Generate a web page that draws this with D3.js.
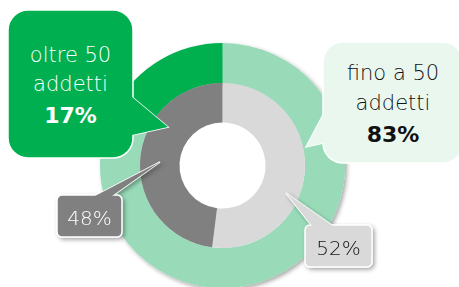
<!DOCTYPE html>
<html>
<head>
<meta charset="utf-8">
<script src="https://cdn.jsdelivr.net/npm/d3@7"></script>
<style>
  body { margin: 0; background: #fff; }
  svg { display: block; }
  text { font-family: "DejaVu Sans", sans-serif; }
</style>
</head>
<body>
<script>
(function(){

    //chart data
    var outerLabels = ["fino a 50 addetti", "oltre 50 addetti"];
    var outerValues = [83, 17];
    var outerColors = ["#99dbb9", "#00b050"];
    var innerLabels = ["52%", "48%"];
    var innerValues = [52, 48];
    var innerColors = ["#d9d9d9", "#808080"];

    var width = 459,
        height = 287,
        cx = 222.5,
        cy = 165.5;

    var svg = d3.select("body")
        .append("svg")
        .attr("width", width)
        .attr("height", height);

    //drop shadow filter
    var defs = svg.append("defs");
    var shadow = defs.append("filter")
        .attr("id", "shadow")
        .attr("x", "-30%").attr("y", "-30%")
        .attr("width", "160%").attr("height", "160%");
    shadow.append("feDropShadow")
        .attr("dx", 2).attr("dy", 2)
        .attr("stdDeviation", 2)
        .attr("flood-color", "#000")
        .attr("flood-opacity", 0.35);

    var pie = d3.pie().sort(null);

    var outerArc = d3.arc().innerRadius(82.5).outerRadius(122.5);
    var innerArc = d3.arc().innerRadius(43).outerRadius(82.5);

    var g = svg.append("g")
        .attr("transform", "translate(" + cx + "," + cy + ")");

    //outer ring with shadow
    g.append("g")
        .attr("filter", "url(#shadow)")
        .selectAll("path")
        .data(pie(outerValues))
        .enter()
        .append("path")
        .attr("d", outerArc)
        .style("fill", function(d, i){ return outerColors[i]; });

    //inner ring
    g.append("g")
        .selectAll("path")
        .data(pie(innerValues))
        .enter()
        .append("path")
        .attr("d", innerArc)
        .style("fill", function(d, i){ return innerColors[i]; });

    //callout: rounded box + pointer triangle
    function callout(opt){
        var c = svg.append("g");
        if (opt.shadow) c.attr("filter", "url(#shadow)");
        var tri = opt.pointer.map(function(p){ return p.join(","); }).join(" ");
        c.append("polygon")
            .attr("points", tri)
            .style("fill", opt.fill)
            .style("stroke", "#fff")
            .style("stroke-width", 1.5)
            .style("stroke-linejoin", "miter");
        c.append("rect")
            .attr("x", opt.x).attr("y", opt.y)
            .attr("width", opt.w).attr("height", opt.h)
            .attr("rx", opt.r).attr("ry", opt.r)
            .style("fill", opt.fill)
            .style("stroke", "#fff")
            .style("stroke-width", 1.5);
        c.append("polygon")
            .attr("points", tri)
            .style("fill", opt.fill);
        var t = c.append("text")
            .attr("text-anchor", "middle")
            .style("fill", opt.color);
        opt.lines.forEach(function(l){
            t.append("tspan")
                .attr("x", opt.x + opt.w / 2)
                .attr("y", l.y)
                .style("font-size", l.size + "px")
                .style("font-weight", l.weight)
                .text(l.text);
        });
        return c;
    }

    var fino = outerLabels[0].split(" "),
        oltre = outerLabels[1].split(" ");

    //oltre 50 addetti
    callout({
        x: 8, y: 10, w: 125, h: 148, r: 20,
        fill: outerColors[1], color: "#fff",
        pointer: [[132, 97], [168, 127], [132, 135]],
        lines: [
            {text: oltre[0] + " " + oltre[1], y: 62, size: 21, weight: 200},
            {text: oltre[2], y: 91, size: 21, weight: 200},
            {text: outerValues[1] + "%", y: 123, size: 22, weight: "bold"}
        ]
    });

    //fino a 50 addetti
    callout({
        x: 323, y: 42, w: 140, h: 121, r: 20,
        fill: "#e9f7ef", color: "#111",
        pointer: [[324, 113], [306, 147], [324, 143]],
        lines: [
            {text: fino[0] + " " + fino[1] + " " + fino[2], y: 80, size: 21, weight: 200},
            {text: fino[3], y: 110, size: 21, weight: 200},
            {text: outerValues[0] + "%", y: 142, size: 22, weight: "bold"}
        ]
    });

    //48%
    callout({
        x: 57, y: 195, w: 65, h: 42, r: 5, shadow: true,
        fill: innerColors[1], color: "#fff",
        pointer: [[95, 196], [160, 162], [112, 196]],
        lines: [
            {text: innerLabels[1], y: 225, size: 20, weight: 200}
        ]
    });

    //52%
    callout({
        x: 305, y: 225, w: 67, h: 42, r: 5, shadow: true,
        fill: innerColors[0], color: "#111",
        pointer: [[312, 226], [286, 193], [333, 226]],
        lines: [
            {text: innerLabels[0], y: 255, size: 20, weight: 200}
        ]
    });

})();
</script>
</body>
</html>
